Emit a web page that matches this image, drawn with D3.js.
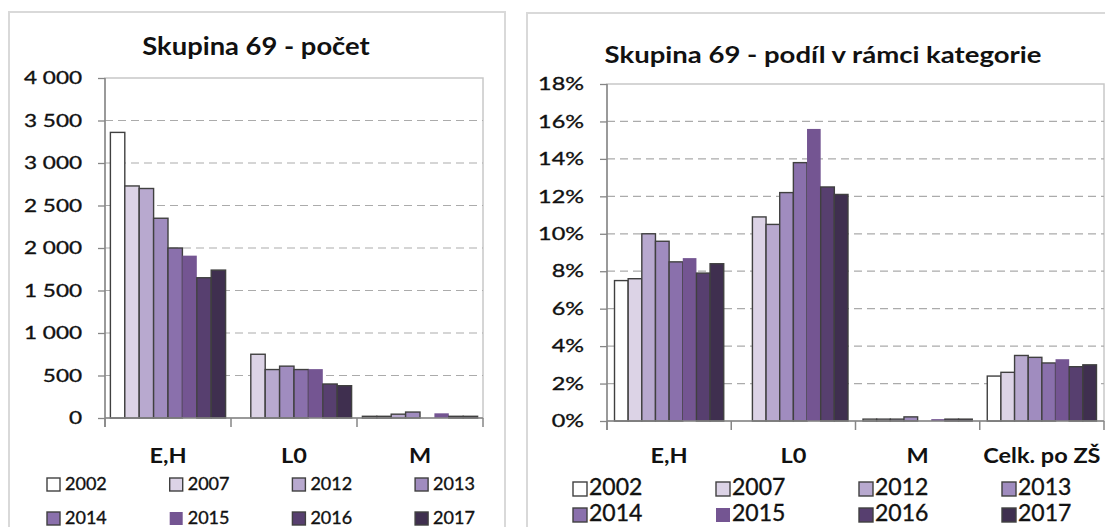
<!DOCTYPE html>
<html><head><meta charset="utf-8">
<script src="https://cdn.jsdelivr.net/npm/d3@7"></script>
<style>
body{margin:0;background:#fff;}
svg{display:block;font-family:Lato,"Open Sans",sans-serif;}
</style>
</head><body>
<svg id="c" width="1105" height="527"></svg>
<script>
// ---------- data ----------
const years = ["2002","2007","2012","2013","2014","2015","2016","2017"];
const yearColors = ["#FFFFFF","#DCD3E6","#B8A9CF","#A08CBF","#8A70AC","#745592","#573F6F","#3F2F4F"];
const yearStrokes = ["#404040","#404040","#404040","#404040","#404040","none","#404040","#404040"];

const countCategories = ["E,H","L0","M"];
const countEH = [3360, 2730, 2700, 2350, 2000, 1910, 1650, 1740];
const countL0 = [null, 750, 570, 610, 570, 575, 400, 380];
const countM  = [20, 20, 45, 70, null, 55, 20, 20];
const countTicks = [0, 500, 1000, 1500, 2000, 2500, 3000, 3500, 4000];

const shareCategories = ["E,H","L0","M","Celk. po ZŠ"];
const shareEH   = [7.5, 7.6, 10.0, 9.6, 8.5, 8.7, 7.9, 8.4];
const shareL0   = [null, 10.9, 10.5, 12.2, 13.8, 15.6, 12.5, 12.1];
const shareM    = [0.1, 0.1, 0.1, 0.22, null, 0.1, 0.1, 0.1];
const shareCelk = [2.4, 2.6, 3.5, 3.4, 3.1, 3.3, 2.9, 3.0];
const shareTicks = [0, 2, 4, 6, 8, 10, 12, 14, 16, 18];

const countTitle = "Skupina 69 - počet";
const shareTitle = "Skupina 69 - podíl v rámci kategorie";

// ---------- drawing ----------
const svg = d3.select("#c");
svg.append("rect").attr("width",1105).attr("height",527).attr("fill","#fff");

function stretch(sel, k){
  sel.each(function(){
    const w = this.getComputedTextLength();
    if (w > 0){
      this.setAttribute("textLength", (w*k).toFixed(1));
      this.setAttribute("lengthAdjust", "spacingAndGlyphs");
    }
  });
}
function heavy(sel, w){
  sel.attr("stroke","#111").attr("stroke-width",w).attr("paint-order","stroke");
}

const czLocale = d3.formatLocale({decimal:",", thousands:"\u00a0", grouping:[3], currency:["","\u00a0Kč"]});

function drawChart(o){
  const g = svg.append("g");
  g.append("rect").attr("x",o.panel[0]).attr("y",o.panel[1])
    .attr("width",o.panel[2]).attr("height",o.panel[3])
    .attr("fill","#fff").attr("stroke","#D9D9D9").attr("stroke-width",2);

  const x0 = d3.scaleBand().domain(o.categories).range([o.left, o.right]);
  const x1 = d3.scaleBand().domain(years).range([0, x0.bandwidth()]).paddingOuter(o.outer);
  const y = d3.scaleLinear().domain([0, o.ticks[o.ticks.length-1]]).range([o.bottom, o.top]);

  // plot border
  g.append("rect").attr("x",o.left).attr("y",o.top)
    .attr("width",o.right-o.left).attr("height",o.bottom-o.top)
    .attr("fill","none").attr("stroke","#C8C8C8").attr("stroke-width",1.5);

  // gridlines
  g.append("g").selectAll("line")
    .data(o.ticks.filter(t => t > 0 && t < o.ticks[o.ticks.length-1]))
    .join("line")
    .attr("x1",o.left).attr("x2",o.right)
    .attr("y1",d=>y(d)).attr("y2",d=>y(d))
    .attr("stroke","#ABABAB").attr("stroke-width",1.2)
    .attr("stroke-dasharray","8,5");

  // bars
  o.categories.forEach((c, ci) => {
    const vals = o.values[ci];
    g.append("g").attr("transform",`translate(${x0(c)},0)`)
      .selectAll("rect")
      .data(years.map((yr,i)=>({yr, i, v: vals[i]})).filter(d => d.v != null))
      .join("rect")
      .attr("x", d => x1(d.yr))
      .attr("width", x1.bandwidth())
      .attr("y", d => y(d.v))
      .attr("height", d => y(0) - y(d.v))
      .attr("fill", d => yearColors[d.i])
      .attr("stroke", d => yearStrokes[d.i])
      .attr("stroke-width", 1.4);
  });

  // y axis
  const ya = g.append("g").attr("transform",`translate(${o.left},0)`)
    .call(d3.axisLeft(y).tickValues(o.ticks).tickFormat(o.fmt).tickSize(7).tickPadding(16));
  ya.select(".domain").remove();
  ya.selectAll(".tick line").attr("stroke","#868686").attr("stroke-width",1.3);
  const tt = ya.selectAll(".tick text").attr("font-size",18).attr("fill","#111").attr("font-family","Lato");
  heavy(tt, 0.35);
  stretch(tt, o.tickStretch);

  // axis lines
  const axisC = "#868686";
  g.append("line").attr("x1",o.left).attr("x2",o.left).attr("y1",o.top).attr("y2",y(0)+9)
    .attr("stroke",axisC).attr("stroke-width",1.5);
  g.append("line").attr("x1",o.left).attr("x2",o.right).attr("y1",y(0)).attr("y2",y(0))
    .attr("stroke",axisC).attr("stroke-width",1.5);
  const bounds = o.categories.map(c => x0(c)).concat([x0(o.categories[o.categories.length-1]) + x0.bandwidth()]);
  g.append("g").selectAll("line").data(bounds).join("line")
    .attr("x1",d=>d).attr("x2",d=>d).attr("y1",y(0)).attr("y2",y(0)+9)
    .attr("stroke",axisC).attr("stroke-width",1.5);

  // category labels
  const cl = g.append("g").selectAll("text").data(o.categories).join("text")
    .attr("x", c => x0(c) + x0.bandwidth()/2)
    .attr("y", o.catY)
    .attr("text-anchor","middle")
    .attr("font-weight","bold").attr("font-size",21).attr("fill","#111")
    .text(c => c);
  stretch(cl, 1.12);

  // title
  const t = g.append("text").attr("x",o.titleX).attr("y",o.titleY)
    .attr("text-anchor","middle").attr("font-weight","bold")
    .attr("font-size",o.titleSize).attr("fill","#111").text(o.title);
  stretch(t, o.titleStretch);

  // legend
  const lg = g.append("g");
  years.forEach((yr, i) => {
    const col = i % 4, row = Math.floor(i / 4);
    const lx = o.legX + col * o.legDX;
    const ly = o.legY + row * o.legDY;
    lg.append("rect").attr("x",lx).attr("y",ly - o.legSq + 1)
      .attr("width",o.legSq).attr("height",o.legSq)
      .attr("fill",yearColors[i])
      .attr("stroke",yearStrokes[i]).attr("stroke-width",1.4);
    const lt = lg.append("text").attr("x",lx + o.legSq + o.legGap).attr("y",ly)
      .attr("font-size",o.legSize).attr("fill","#111").text(yr);
    heavy(lt, 0.35);
  });
}

drawChart({
  panel:[9,12,496,540],
  categories: countCategories,
  values: [countEH, countL0, countM],
  ticks: countTicks,
  fmt: czLocale.format(",d"),
  left:105, right:483, top:78, bottom:418,
  outer:0.375,
  tickStretch:1.25,
  catY:463,
  title: countTitle, titleX:256, titleY:55, titleSize:24, titleStretch:1.14,
  legX:47, legY:490, legDX:122.7, legDY:34, legSq:13, legGap:5, legSize:18
});

drawChart({
  panel:[527,13,600,540],
  categories: shareCategories,
  values: [shareEH, shareL0, shareM, shareCelk],
  ticks: shareTicks,
  fmt: d => d + "%",
  left:607, right:1104, top:84, bottom:421,
  outer:0.55,
  tickStretch:1.3,
  catY:463,
  title: shareTitle, titleX:823, titleY:63, titleSize:22, titleStretch:1.25,
  legX:573, legY:495, legDX:143, legDY:26, legSq:14, legGap:2, legSize:23
});
</script>
</body></html>
